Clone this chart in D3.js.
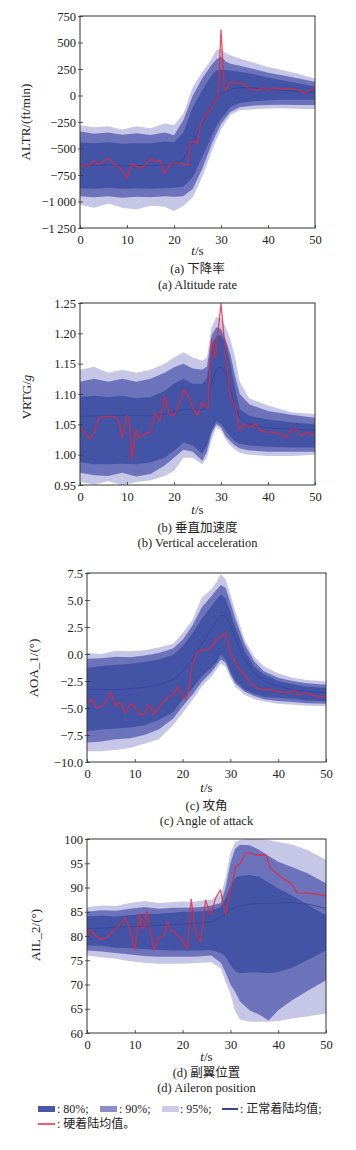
<!DOCTYPE html>
<html><head><meta charset="utf-8">
<script src="https://cdn.jsdelivr.net/npm/d3@7"></script>
<style>
body{margin:0;background:#fff}
svg{display:block}
text{font-family:"Liberation Serif","Times New Roman","DejaVu Serif","Noto Sans CJK SC",serif;fill:#222}
</style>
</head><body>
<svg id="chart" width="356" height="1150"></svg>
<script>
// ---------------- DATA ----------------
const xTicks = [0, 10, 20, 30, 40, 50];

// (a) Altitude rate
const tA = [0,3,6,9,12,15,18,20,22,24,26,28,29,30,31,32,34,37,40,43,46,50];
const a95u = [-280,-300,-290,-320,-290,-310,-265,-280,-170,80,220,345,430,440,400,380,350,310,270,240,210,160];
const a90u = [-340,-360,-350,-370,-355,-372,-350,-375,-230,0,160,290,340,370,320,300,280,250,215,190,165,130];
const a80u = [-440,-450,-440,-455,-450,-450,-435,-440,-350,-110,50,190,235,245,240,235,225,200,170,145,120,85];
const aMean = [-655,-660,-655,-665,-660,-662,-655,-655,-600,-440,-265,-95,-25,15,40,60,75,72,60,50,40,25];
const a80l = [-875,-880,-870,-880,-875,-880,-875,-870,-860,-770,-580,-390,-290,-220,-170,-110,-70,-55,-45,-40,-40,-40];
const a90l = [-950,-960,-950,-965,-955,-960,-950,-955,-950,-880,-690,-460,-360,-270,-210,-155,-110,-95,-90,-88,-90,-90];
const a95l = [-1030,-1060,-1020,-1060,-1075,-1040,-1050,-1090,-1040,-960,-770,-530,-420,-320,-250,-185,-140,-130,-122,-120,-125,-130];
const tRedA = [0,1,2,3,4,5,6,7,8,9,10,11,12,13,14,15,16,17,18,19,20,21,22,23,23.5,24.5,25,25.6,26.5,27.7,28.8,29.4,30,30.7,31.1,32,33.3,34.7,36,37.5,38.9,40,41,42.3,43.7,45,46.5,47.9,50];
const redA = [-680,-650,-665,-617,-650,-620,-592,-640,-670,-700,-780,-640,-670,-685,-655,-592,-625,-610,-735,-655,-640,-640,-650,-655,-440,-430,-460,-280,-200,-137,-43,-20,620,80,50,130,120,113,67,45,75,50,75,60,65,60,50,20,82];

// (b) Vertical acceleration
const tB = [0,3,6,9,12,15,18,20,22,24,26,27,28,29,30,31,32,33,34,36,40,45,50];
const b95u = [1.14,1.145,1.135,1.14,1.135,1.14,1.15,1.16,1.169,1.16,1.155,1.16,1.21,1.227,1.225,1.21,1.19,1.16,1.12,1.093,1.081,1.07,1.067];
const b90u = [1.12,1.125,1.12,1.125,1.12,1.125,1.135,1.144,1.15,1.142,1.14,1.145,1.197,1.21,1.207,1.19,1.165,1.13,1.10,1.083,1.072,1.066,1.061];
const b80u = [1.095,1.097,1.095,1.097,1.093,1.095,1.105,1.117,1.125,1.117,1.117,1.125,1.18,1.195,1.197,1.185,1.15,1.11,1.075,1.064,1.058,1.053,1.05];
const bMean = [1.063,1.064,1.065,1.065,1.065,1.064,1.067,1.071,1.074,1.074,1.074,1.08,1.12,1.14,1.145,1.135,1.11,1.08,1.06,1.05,1.044,1.042,1.04];
const b80l = [0.988,0.984,0.984,0.985,0.984,0.987,0.995,1.006,1.02,1.015,1.002,1.015,1.04,1.055,1.05,1.04,1.03,1.022,1.018,1.015,1.013,1.012,1.012];
const b90l = [0.97,0.966,0.965,0.97,0.964,0.968,0.982,0.995,1.008,1.005,0.99,1.005,1.035,1.05,1.045,1.03,1.022,1.015,1.01,1.007,1.005,1.005,1.005];
const b95l = [0.955,0.951,0.956,0.95,0.955,0.958,0.965,0.973,0.995,0.995,0.984,0.995,1.025,1.045,1.04,1.025,1.015,1.008,1.003,1.0,0.998,0.998,1.0];
const tRedB = [0,1,2,3,4,5,6,7,8,9,10,10.5,11,12,12.5,13,14,15,16,16.5,17,18,19,20,21,22,23,24,25,26,26.7,27.2,28,28.8,30,30.9,32,33,33.9,34.8,36.2,37.3,38.3,39.7,41,42.5,44,45,46,47.1,48.2,50];
const redB = [1.042,1.037,1.026,1.035,1.06,1.063,1.063,1.063,1.06,1.028,1.065,1.058,0.993,1.042,1.028,1.032,1.035,1.037,1.07,1.06,1.057,1.097,1.067,1.064,1.081,1.107,1.098,1.078,1.064,1.086,1.08,1.077,1.191,1.16,1.249,1.172,1.095,1.082,1.04,1.051,1.045,1.051,1.04,1.037,1.037,1.034,1.028,1.042,1.042,1.031,1.037,1.031];

// (c) Angle of attack
const tC = [0,3,6,9,12,15,18,20,22,24,26,27,28,29,30,31,33,35,37,40,43,46,50];
const c95u = [0.1,0.0,0.3,0.25,0.35,0.6,0.95,1.95,3.1,5.2,6.0,6.6,7.4,6.9,5.5,4.0,1.3,-0.25,-1.14,-1.8,-2.2,-2.4,-2.55];
const c90u = [-0.45,-0.4,-0.25,-0.3,-0.15,0.1,0.5,1.33,2.6,4.3,5.35,5.9,6.4,6.1,4.8,3.3,0.9,-0.7,-1.6,-2.2,-2.5,-2.7,-2.85];
const c80u = [-1.3,-1.1,-1.0,-0.9,-0.75,-0.5,-0.1,0.71,1.9,3.25,4.4,5.0,5.5,5.15,3.9,2.5,0.3,-1.15,-1.9,-2.5,-2.8,-3.0,-3.15];
const cMean = [-3.3,-3.3,-3.3,-3.2,-3.1,-2.9,-2.4,-1.6,-0.5,0.9,2.3,3.0,3.6,3.5,2.6,1.5,-0.5,-1.8,-2.5,-3.0,-3.3,-3.45,-3.6];
const c80l = [-7.15,-7.0,-6.9,-6.8,-6.6,-6.1,-5.4,-4.23,-3.2,-2.1,-1.3,-0.8,-0.06,-0.5,-1.6,-2.5,-3.3,-3.7,-3.95,-4.05,-4.15,-4.3,-4.38];
const c90l = [-8.2,-8.1,-7.9,-7.8,-7.5,-7.0,-6.0,-4.84,-3.8,-2.6,-1.7,-1.1,-0.5,-0.8,-1.9,-2.7,-3.5,-3.9,-4.2,-4.35,-4.45,-4.55,-4.6];
const c95l = [-9.0,-9.0,-8.9,-8.7,-8.3,-7.9,-6.6,-5.46,-4.3,-3.0,-2.1,-1.5,-0.9,-1.2,-2.2,-3.0,-3.8,-4.2,-4.4,-4.6,-4.7,-4.8,-4.84];
const tRedC = [0,1,2,3,4,5,6,7,8,9,10,11,12,13,14,15,16,17,18,18.9,19.9,20.6,21.1,22,23.1,24.1,25.5,26.6,27.9,29,30,31.4,32.8,34.2,35.6,37,38.4,39.8,41.2,42.6,43.3,44,45.4,46.8,48.2,50];
const redC = [-4.54,-4.23,-5.0,-4.85,-4.4,-3.55,-4.84,-4.5,-5.46,-4.6,-4.85,-5.6,-5.6,-4.69,-5.6,-5.0,-4.4,-3.95,-3.8,-3.05,-3.9,-4.17,-3.6,-1.14,0.25,0.4,0.4,1.02,1.64,1.95,0.09,-1.14,-1.9,-2.68,-3.15,-3.3,-3.3,-3.45,-3.55,-3.55,-3.3,-3.77,-3.6,-3.77,-3.92,-3.92];

// (d) Aileron position
const tD = [0,3,6,9,12,15,18,20,22,24,26,28,29,30,31,32,34,36,38,40,43,46,50];
const d95u = [86.0,86.3,86.2,86.8,87.2,86.8,87.0,87.1,87.0,87.3,87.5,88.5,92,97.1,99.3,99.8,100,100,99.8,99.4,98.8,97.8,95.7];
const d90u = [85.0,85.3,85.2,85.6,86.0,85.6,85.8,85.8,85.9,86.0,86.3,86.8,90,95,98,98.8,98.7,97.8,96.5,95.3,94.2,93.0,90.9];
const d80u = [84.0,84.2,84.0,84.3,84.6,84.6,84.8,85.0,85.0,85.1,85.3,86.0,87.8,90.2,92.0,92.4,92.6,92.2,91.0,89.8,88.3,86.5,84.3];
const dMean = [81.5,81.6,81.8,81.9,82.0,82.2,82.3,82.5,82.6,82.7,83.0,83.8,84.5,85.5,85.9,86.2,86.6,86.7,86.7,86.8,86.9,86.6,85.7];
const d80l = [78.0,78.0,77.6,77.5,77.3,77.1,77.0,77.0,77.0,77.0,77.1,76.5,75.7,74.0,72.8,72.3,72.5,72.5,72.3,72.6,73.5,75.0,77.0];
const d90l = [77.0,76.8,76.5,76.2,75.9,75.7,75.7,75.7,75.7,75.8,76.0,74.5,72.5,70,68.5,66.5,64.7,63.8,62.6,64.7,66.8,68.6,70.9];
const d95l = [76.0,75.6,75.3,74.8,74.5,74.3,74.3,74.3,74.4,74.5,74.6,73.3,70.5,68.1,64.5,62.8,62.3,62.3,62.3,62.5,63.0,63.4,64.0];
const tRedD = [0,0.3,1,2,3,4,5,6,7,8,9,10,10.5,11,11.5,12,12.5,13,14,15,16,16.8,17.5,18.2,19.6,21,21.8,22.7,23.8,24.8,25.9,26.9,27.9,29,30,31.1,32.1,33.2,34.2,35.3,37.4,38.4,40.5,42.6,44,46.8,50];
const redD = [79.2,81.2,81.0,79.8,79.3,79.6,80.6,81.5,82.6,83.8,81.3,77.1,81.0,84.7,81.5,82.0,85.2,82.4,77.1,79.6,80.0,82.9,81.2,80.9,79.5,77.4,87.6,80.8,78.8,87.4,84.3,87.8,89.5,84.3,89.5,94.3,95,97.1,97.1,96.7,96.7,94,92.2,90.9,88.9,88.8,88.3];

// tick labels
const yTicksA = [-1250,-1000,-750,-500,-250,0,250,500,750];
const yTicksB = [0.95,1.00,1.05,1.10,1.15,1.20,1.25];
const yTicksC = [-10,-7.5,-5,-2.5,0,2.5,5,7.5];
const yTicksD = [60,65,70,75,80,85,90,95,100];

// legend labels
const legendLabels = [": 80%;", ": 90%;", ": 95%;", ": 正常着陆均值;", ": 硬着陆均值。"];

// ---------------- DRAW ----------------
const loc = d3.formatLocale({decimal: ".", thousands: "\u2009", grouping: [3], currency: ["", ""], minus: "\u2212"});
const C95 = "#c6c7e6", C90 = "#6c73bb", C80 = "#4354a7", CMEAN = "#34459f", CRED = "#e8243a";
const SERIF = '"Liberation Serif","Times New Roman","DejaVu Serif",serif';

const panels = [
  {t: tA, u95: a95u, l95: a95l, u90: a90u, l90: a90l, u80: a80u, l80: a80l, mean: aMean, tr: tRedA, red: redA,
   dom: [-1250, 750], ticks: yTicksA, fmt: loc.format(",d"),
   box: {l: 80, r: 315, t: 16, b: 228}, title: ["ALTR/(ft/min)"], tx: 27, ty: 122,
   cn: "(a) 下降率", en: "(a) Altitude rate", ys: [242, 255, 273, 289]},
  {t: tB, u95: b95u, l95: b95l, u90: b90u, l90: b90l, u80: b80u, l80: b80l, mean: bMean, tr: tRedB, red: redB,
   dom: [0.95, 1.25], ticks: yTicksB, fmt: loc.format(".2f"),
   box: {l: 80, r: 315, t: 303, b: 485}, title: ["VRTG/", "g"], tx: 28, ty: 397,
   cn: "(b) 垂直加速度", en: "(b) Vertical acceleration", ys: [501, 514, 532, 547]},
  {t: tC, u95: c95u, l95: c95l, u90: c90u, l90: c90l, u80: c80u, l80: c80l, mean: cMean, tr: tRedC, red: redC,
   dom: [-10, 7.5], ticks: yTicksC, fmt: loc.format(".1f"),
   box: {l: 87, r: 326, t: 573, b: 762}, title: ["AOA_1/(°)"], tx: 35, ty: 668,
   cn: "(c) 攻角", en: "(c) Angle of attack", ys: [777, 792, 810, 825]},
  {t: tD, u95: d95u, l95: d95l, u90: d90u, l90: d90l, u80: d80u, l80: d80l, mean: dMean, tr: tRedD, red: redD,
   dom: [60, 100], ticks: yTicksD, fmt: loc.format("d"),
   box: {l: 87, r: 326, t: 839, b: 1033}, title: ["AIL_2/(°)"], tx: 37, ty: 935,
   cn: "(d) 副翼位置", en: "(d) Aileron position", ys: [1046, 1061, 1077, 1092]}
];

const svg = d3.select("#chart");

panels.forEach((p, i) => {
  const B = p.box;
  const x = d3.scaleLinear().domain([0, 50]).range([B.l, B.r]);
  const y = d3.scaleLinear().domain(p.dom).range([B.b, B.t]);
  const g = svg.append("g");
  const cid = "clip" + i;
  g.append("clipPath").attr("id", cid).append("rect")
    .attr("x", B.l).attr("y", B.t).attr("width", B.r - B.l).attr("height", B.b - B.t);
  const plot = g.append("g").attr("clip-path", `url(#${cid})`);

  const band = (up, lo) => d3.area().x((d, k) => x(p.t[k])).y0((d, k) => y(lo[k])).y1((d, k) => y(up[k]));
  plot.append("path").datum(p.t).attr("d", band(p.u95, p.l95)).attr("fill", C95);
  plot.append("path").datum(p.t).attr("d", band(p.u90, p.l90)).attr("fill", C90);
  plot.append("path").datum(p.t).attr("d", band(p.u80, p.l80)).attr("fill", C80);

  const line = (tt, vv) => d3.line().x((d, k) => x(tt[k])).y((d, k) => y(vv[k]));
  plot.append("path").datum(p.t).attr("d", line(p.t, p.mean))
    .attr("fill", "none").attr("stroke", CMEAN).attr("stroke-width", 0.9);
  plot.append("path").datum(p.tr).attr("d", line(p.tr, p.red))
    .attr("fill", "none").attr("stroke", CRED).attr("stroke-width", 1.3)
    .attr("stroke-opacity", 0.8).attr("stroke-linejoin", "round");

  // axes
  const xa = g.append("g").attr("transform", `translate(0,${B.b})`)
    .call(d3.axisBottom(x).tickValues(xTicks).tickSize(-3).tickPadding(7).tickFormat(d3.format("d")));
  const ya = g.append("g").attr("transform", `translate(${B.l},0)`)
    .call(d3.axisLeft(y).tickValues(p.ticks).tickSize(-3).tickPadding(4).tickFormat(p.fmt));
  [xa, ya].forEach(a => {
    a.attr("font-family", null);
    a.select(".domain").remove();
    a.selectAll(".tick line").attr("stroke", "#333").attr("stroke-width", 0.8);
    a.selectAll(".tick text").attr("font-size", 12.5).attr("fill", "#222")
      .style("font-family", SERIF);
  });
  ya.selectAll(".tick line").attr("x1", -2);
  g.append("rect").attr("x", B.l).attr("y", B.t).attr("width", B.r - B.l).attr("height", B.b - B.t)
    .attr("fill", "none").attr("stroke", "#333").attr("stroke-width", 1);

  // y title
  const tt = g.append("text").attr("transform", `translate(${p.tx},${p.ty}) rotate(-90)`)
    .attr("text-anchor", "middle").attr("dominant-baseline", "middle").attr("font-size", 13);
  tt.append("tspan").text(p.title[0]);
  if (p.title[1]) tt.append("tspan").attr("font-style", "italic").text(p.title[1]);

  const cx = (B.l + B.r) / 2;
  const xl = g.append("text").attr("x", cx).attr("y", p.ys[1]).attr("text-anchor", "middle").attr("font-size", 13);
  xl.append("tspan").attr("font-style", "italic").text("t");
  xl.append("tspan").text("/s");
  g.append("text").attr("x", cx).attr("y", p.ys[2]).attr("text-anchor", "middle").attr("font-size", 12.5).text(p.cn);
  g.append("text").attr("x", cx).attr("y", p.ys[3]).attr("text-anchor", "middle").attr("font-size", 12.5).text(p.en);
});

// legend
const lg = svg.append("g");
const sw = [{x: 38, c: "#4a58a8", tx: 57}, {x: 100, c: "#8a8fcb", tx: 119}, {x: 162, c: "#cacbe8", tx: 180}];
sw.forEach((s, k) => {
  lg.append("rect").attr("x", s.x).attr("y", 1106).attr("width", 17).attr("height", 6).attr("fill", s.c);
  lg.append("text").attr("x", s.tx).attr("y", 1113).attr("font-size", 12).text(legendLabels[k]);
});
lg.append("line").attr("x1", 222).attr("x2", 238).attr("y1", 1109).attr("y2", 1109).attr("stroke", CMEAN).attr("stroke-width", 2);
lg.append("text").attr("x", 240).attr("y", 1113).attr("font-size", 12).text(legendLabels[3]);
lg.append("line").attr("x1", 38).attr("x2", 55).attr("y1", 1124).attr("y2", 1124).attr("stroke", CRED).attr("stroke-width", 1.5);
lg.append("text").attr("x", 57).attr("y", 1128).attr("font-size", 12).text(legendLabels[4]);
</script>
</body></html>
